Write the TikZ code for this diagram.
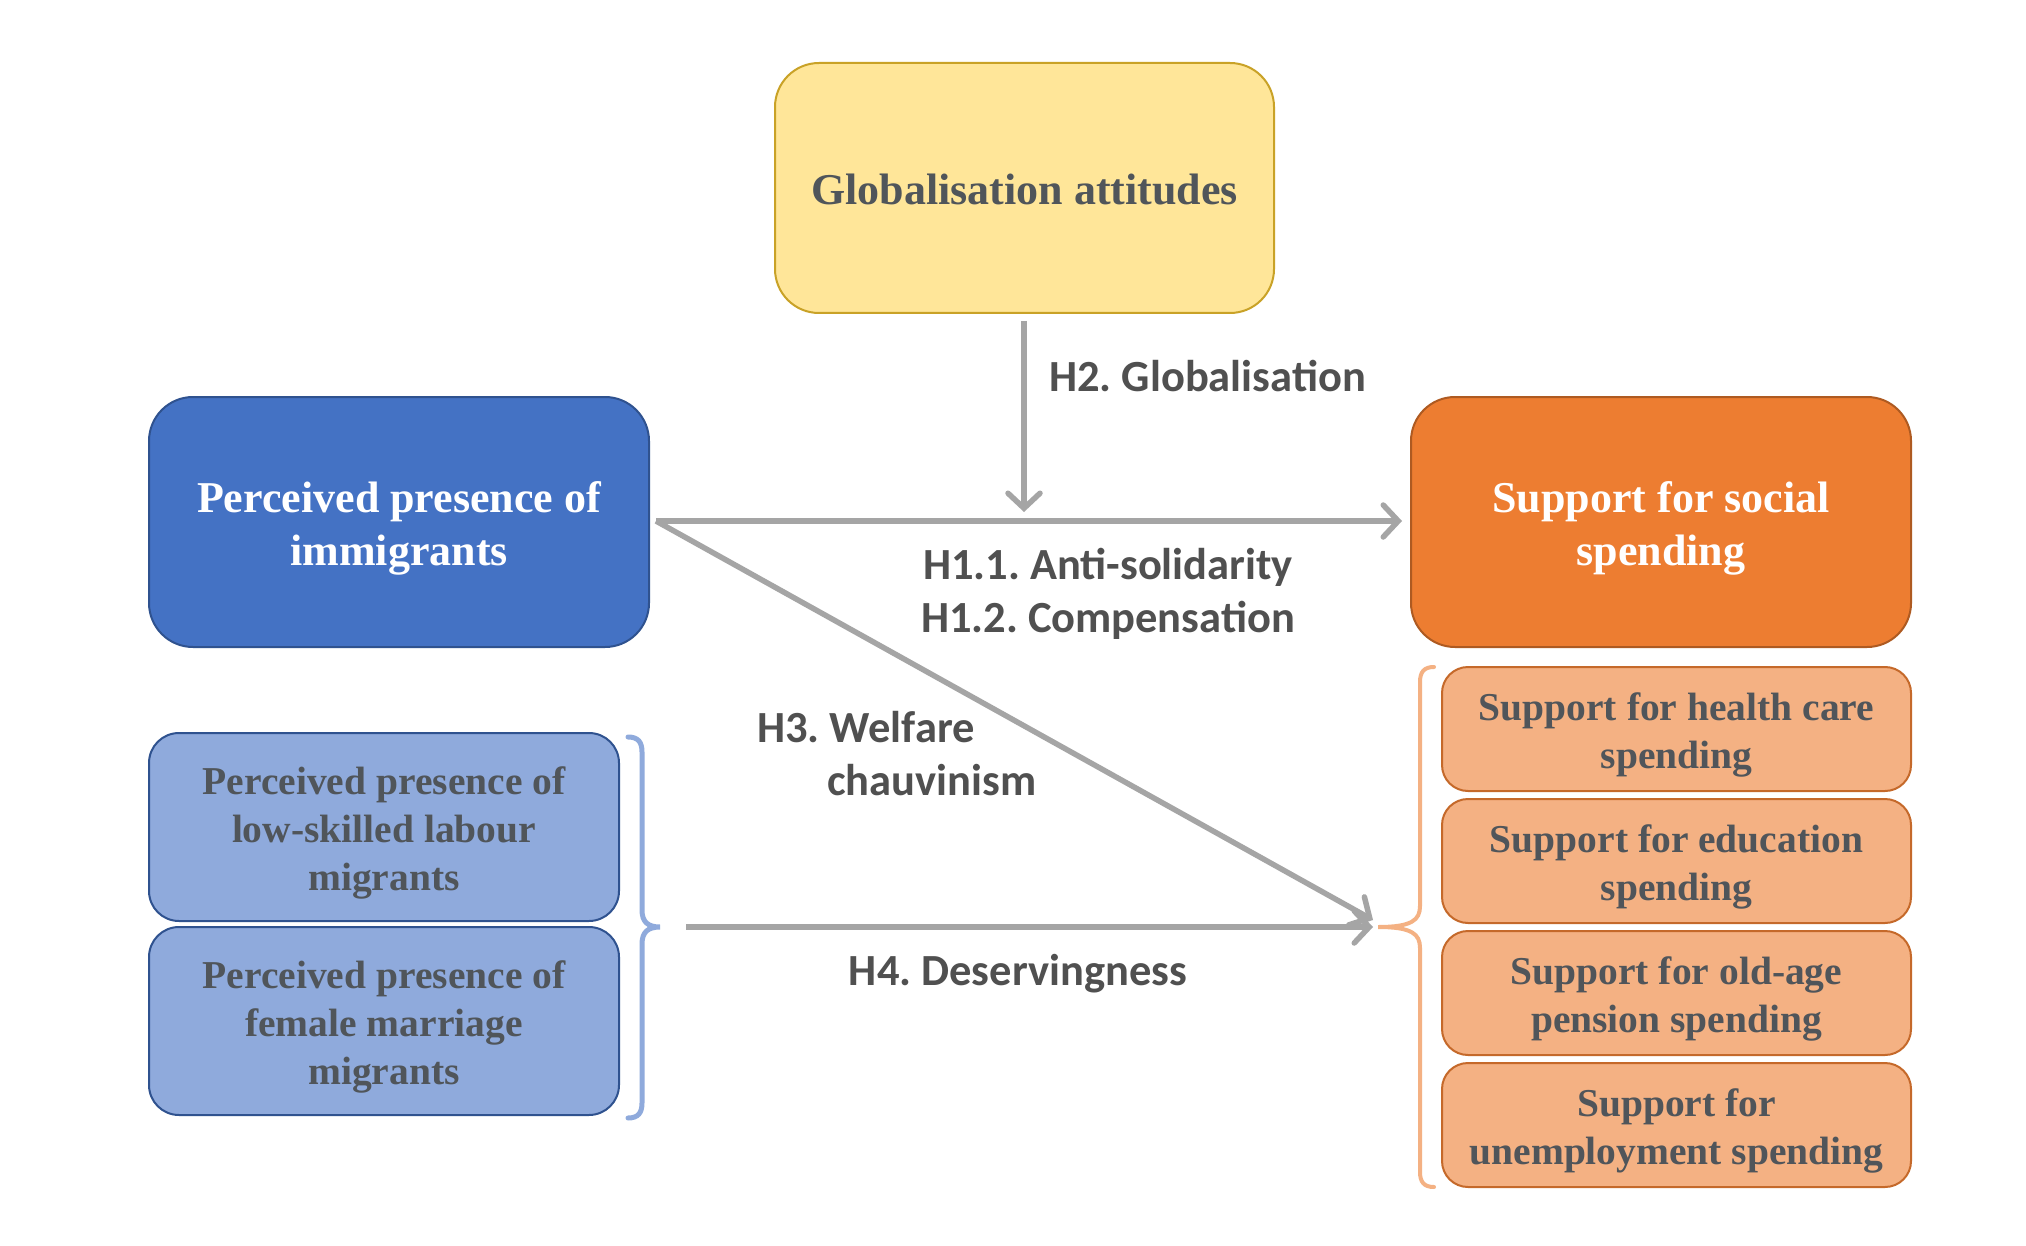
\documentclass[tikz,border=0pt]{standalone}
\usepackage{fontspec}
\setmainfont{Liberation Serif}
\newfontfamily\labfont{Carlito}
\usetikzlibrary{arrows.meta}
\definecolor{yfill}{HTML}{FFE699}
\definecolor{ydraw}{HTML}{C9A227}
\definecolor{bfill}{HTML}{4472C4}
\definecolor{bdraw}{HTML}{2F528F}
\definecolor{lbfill}{HTML}{8FAADC}
\definecolor{ofill}{HTML}{ED7D31}
\definecolor{odraw}{HTML}{AE5A21}
\definecolor{lofill}{HTML}{F4B183}
\definecolor{lodraw}{HTML}{C5692A}
\definecolor{arrowgray}{HTML}{A5A5A5}
\definecolor{txtgray}{HTML}{50555A}
\definecolor{labgray}{HTML}{505050}
\frenchspacing
\begin{document}
\begin{tikzpicture}[x=1pt,y=-1pt,
  box/.style={draw, line width=2pt, inner sep=0pt},
  bigbox/.style={box, rounded corners=44pt, minimum width=500pt, minimum height=250pt},
  bigtxt/.style={align=center, inner sep=0pt, yshift=-6pt, font=\fontsize{44}{53}\selectfont\bfseries},
  smallbox/.style={box, rounded corners=30pt, minimum width=470pt, minimum height=188pt,
    fill=lbfill, draw=bdraw},
  obox/.style={box, rounded corners=26pt, minimum width=469pt, minimum height=124pt,
    fill=lofill, draw=lodraw},
  smalltxt/.style={align=center, inner sep=0pt, yshift=-6pt, text=txtgray,
    font=\fontsize{39.5}{48}\selectfont\bfseries},
  lab/.style={text=labgray, inner sep=0pt, font=\labfont\fontsize{44.5}{53}\selectfont\bfseries},
  arr/.style={draw=arrowgray, line width=5.5pt, -{Straight Barb[length=15pt,width=32pt,line cap=round]}},
  bracebl/.style={draw=lbfill, line width=5pt, line cap=round},
  braceor/.style={draw=lofill, line width=4pt, line cap=round}
]
\useasboundingbox[fill=white] (0,0) rectangle (2026,1246);

% main boxes
\node[bigbox, fill=yfill, draw=ydraw, minimum width=499pt,
  label={[bigtxt, yshift=4pt, text=txtgray]center:Globalisation attitudes}] (glob) at (1024.5,188) {};
\node[bigbox, fill=bfill, draw=bdraw,
  label={[bigtxt, text=white]center:{Perceived presence of\\immigrants}}] (imm) at (399,522) {};
\node[bigbox, fill=ofill, draw=odraw,
  label={[bigtxt, text=white]center:{Support for social\\spending}}] (soc) at (1661,522) {};

% sub boxes left
\node[smallbox, label={[smalltxt]center:{Perceived presence of\\low-skilled labour\\migrants}}] (low) at (384,827) {};
\node[smallbox, label={[smalltxt]center:{Perceived presence of\\female marriage\\migrants}}] (fem) at (384,1021) {};

% sub boxes right
\node[obox, label={[smalltxt]center:{Support for health care\\spending}}] (hc) at (1676.5,729) {};
\node[obox, label={[smalltxt]center:{Support for education\\spending}}] (ed) at (1676.5,861) {};
\node[obox, label={[smalltxt]center:{Support for old-age\\pension spending}}] (pen) at (1676.5,993) {};
\node[obox, label={[smalltxt]center:{Support for\\unemployment spending}}] (une) at (1676.5,1125) {};

% braces
\coordinate (lbtip) at (660,927);
\coordinate (rbtip) at (1378,927);
\draw[bracebl] (628,737) .. controls (638,737) and (642,742) .. (642,752) -- (642,910)
  .. controls (642,922) and (648,927) .. (lbtip)
  .. controls (648,927) and (642,932) .. (642,944) -- (642,1103)
  .. controls (642,1113) and (638,1118) .. (628,1118);
\draw[braceor] (1434,667) .. controls (1424,667) and (1420,672) .. (1420,682) -- (1420,906)
  .. controls (1420,920) and (1412,927) .. (rbtip)
  .. controls (1412,927) and (1420,934) .. (1420,948) -- (1420,1172)
  .. controls (1420,1182) and (1424,1187) .. (1434,1187);

% connectors
\coordinate (h1s) at (656,521);
\coordinate (h2e) at (1024,512);
\coordinate (h3e) at (1373,920);
\coordinate (h4s) at (686,927);
\coordinate (h4e) at (1373,927);
\draw[arr, shorten <=7pt] (glob.south -| h2e) -- (h2e);
\draw[arr, shorten >=8pt] (h1s) -- (h1s -| soc.west);
\draw[arr] (h1s) -- (h3e);
\draw[arr] (h4s) -- (h4e);

% labels
\node[lab, anchor=west] (lh2) at (1049,376) {H2. Globalisation};
\node[lab, align=center] (lh1) at (1108,594) {H1.1. Anti-solidarity\\H1.2. Compensation};
\node[lab, align=left, anchor=west] (lh3) at (757,754) {H3. Welfare\\\hspace*{70pt}chauvinism};
\node[lab] (lh4) at (1018,974) {H4. Deservingness};
\end{tikzpicture}
\end{document}
